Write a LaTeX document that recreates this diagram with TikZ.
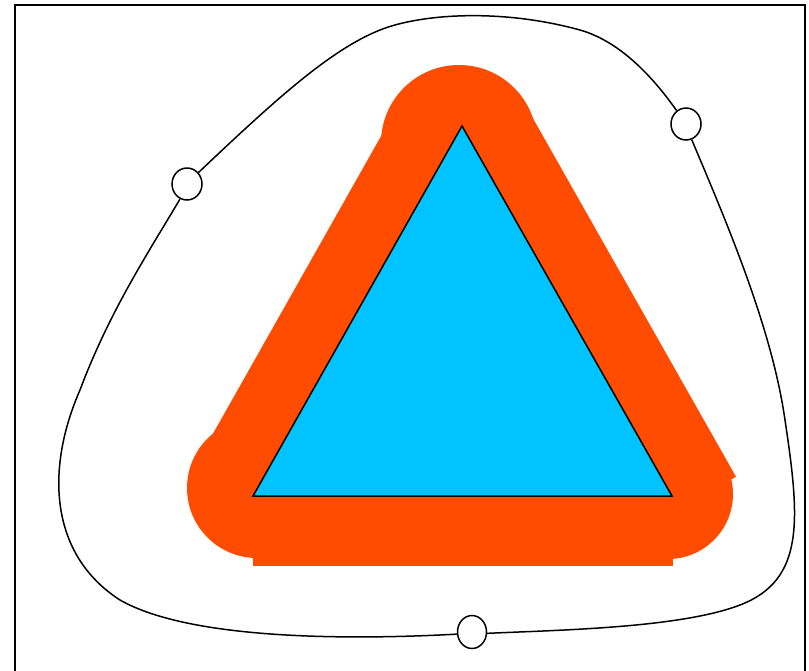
\documentclass[tikz,border=0pt]{standalone}
\usetikzlibrary{shapes.geometric}
\definecolor{warnorange}{RGB}{255,76,0}
\definecolor{skyblue}{RGB}{0,195,255}
\tikzset{
  hole/.style={draw=black, ellipse, line width=1.5pt, minimum width=30pt, minimum height=32pt, inner sep=0pt, fill=white},
  loopline/.style={draw=black, line width=1.5pt},
  band/.style={draw=warnorange, line width=131pt, line cap=butt},
}
\begin{document}
\begin{tikzpicture}[x=1pt,y=-1pt]
\useasboundingbox (0,0) rectangle (809,670);
\fill[white] (0,0) rectangle (809,670);
\draw[line width=1.5pt] (15,5) rectangle (805,690);
% triangle corners
\coordinate (T) at (462,126);
\coordinate (L) at (253,496);
\coordinate (R) at (672,496);
\coordinate (R2) at (679,509);
% orange band: side strokes, corner discs, bottom bar
\draw[band] (T) -- (L);
\draw[band] (T) -- (R2);
\fill[warnorange] (459,143) circle[radius=78];
\fill[warnorange] (257,488) circle[radius=70];
\fill[warnorange] (668,494) circle[radius=65];
\fill[warnorange] (L) rectangle (673,566);
% blue triangle
\draw[fill=skyblue, draw=black, line width=1.5pt, line join=miter] (T) -- (L) -- (R) -- cycle;
% small ellipses
\node[hole] (e1) at (187,184) {};
\node[hole] (e2) at (686,124) {};
\node[hole, minimum width=29pt, minimum height=33pt] (e3) at (472,632) {};
% loop connectors
\draw[loopline] (e1.45) .. controls (275,100) and (330,50) .. (380,30)
  .. controls (420,14) and (500,8) .. (580,30)
  .. controls (622,42) and (655,80) .. (e2.125);
\draw[loopline] (e2.-70) .. controls (730,230) and (772,330) .. (785,420)
  .. controls (800,520) and (805,580) .. (740,605)
  .. controls (680,628) and (560,630) .. (e3.-5);
\draw[loopline] (e3.188) .. controls (350,640) and (190,640) .. (120,600)
  .. controls (50,555) and (45,470) .. (80,390)
  .. controls (110,310) and (150,250) .. (e1.245);
\end{tikzpicture}
\end{document}
